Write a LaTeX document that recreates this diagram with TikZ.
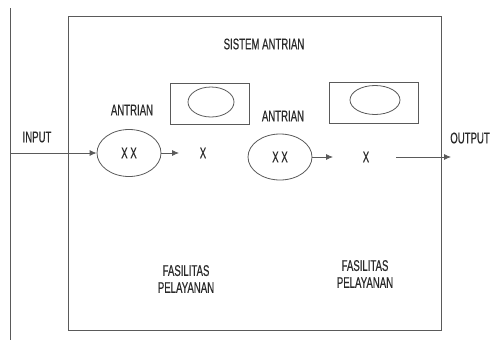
\documentclass[tikz,border=0pt]{standalone}
\usepackage{fontspec}
\setmainfont[FakeStretch=0.62,FakeBold=0.4]{Liberation Sans}
\usetikzlibrary{shapes.geometric,arrows.meta}
\definecolor{ln}{HTML}{5A5A5A}
\definecolor{tx}{HTML}{2A2A2A}
\begin{document}
\begin{tikzpicture}[x=1pt,y=-1pt,
  every node/.style={text=tx,font=\fontsize{15.5}{17}\selectfont,inner sep=0pt},
  lbl/.style={align=center},
  qell/.style={draw=ln,line width=0.8pt,ellipse,minimum width=64pt,minimum height=47pt},
  sell/.style={draw=ln,line width=0.8pt,ellipse,minimum width=46pt,minimum height=30pt},
  sbox/.style={draw=ln,line width=0.8pt,rectangle},
  conn/.style={draw=ln,line width=0.8pt,-{Latex[length=7pt,width=6pt]}}]
\useasboundingbox (0,0) rectangle (491,341);
% left vertical line and main frame
\draw[ln,line width=0.8pt] (10,8) -- (10,340);
\draw[ln,line width=0.8pt] (68,16) rectangle (441,330);
\node (title) at (264,44) {SISTEM ANTRIAN};
% first stage
\node[sbox,minimum width=79pt,minimum height=41pt] (b1) at (209.5,103.5) {};
\node[sell] (s1) at (211,102) {};
\node (q1lbl) at (132,110) {ANTRIAN};
\node[qell] (e1) at (129,153) {X X};
\node (x1) at (203,153) {X};
\node[lbl] (f1) at (186,279) {FASILITAS\\PELAYANAN};
% second stage
\node[sbox,minimum width=89pt,minimum height=41pt] (b2) at (373.5,102.5) {};
\node[sell,minimum width=50pt,minimum height=29pt] (s2) at (375,100) {};
\node (q2lbl) at (283,116) {ANTRIAN};
\node[qell,minimum height=46pt] (e2) at (280,157) {X X};
\node (x2) at (366,157) {X};
\node[lbl] (f2) at (365,274) {FASILITAS\\PELAYANAN};
% labels
\node (inlbl) at (37,137) {INPUT};
\node[anchor=east] (outlbl) at (490,138) {OUTPUT};
% connectors
\coordinate (instart) at (10,153);
\coordinate (a1) at (179,153);
\coordinate (a2) at (333,157);
\coordinate (o1) at (396,157);
\coordinate (o2) at (451,157);
\draw[conn] (instart) -- (e1.west);
\draw[conn] (e1.east) -- (a1);
\draw[conn] (e2.east) -- (a2);
\draw[conn] (o1) -- (o2);
\end{tikzpicture}
\end{document}
